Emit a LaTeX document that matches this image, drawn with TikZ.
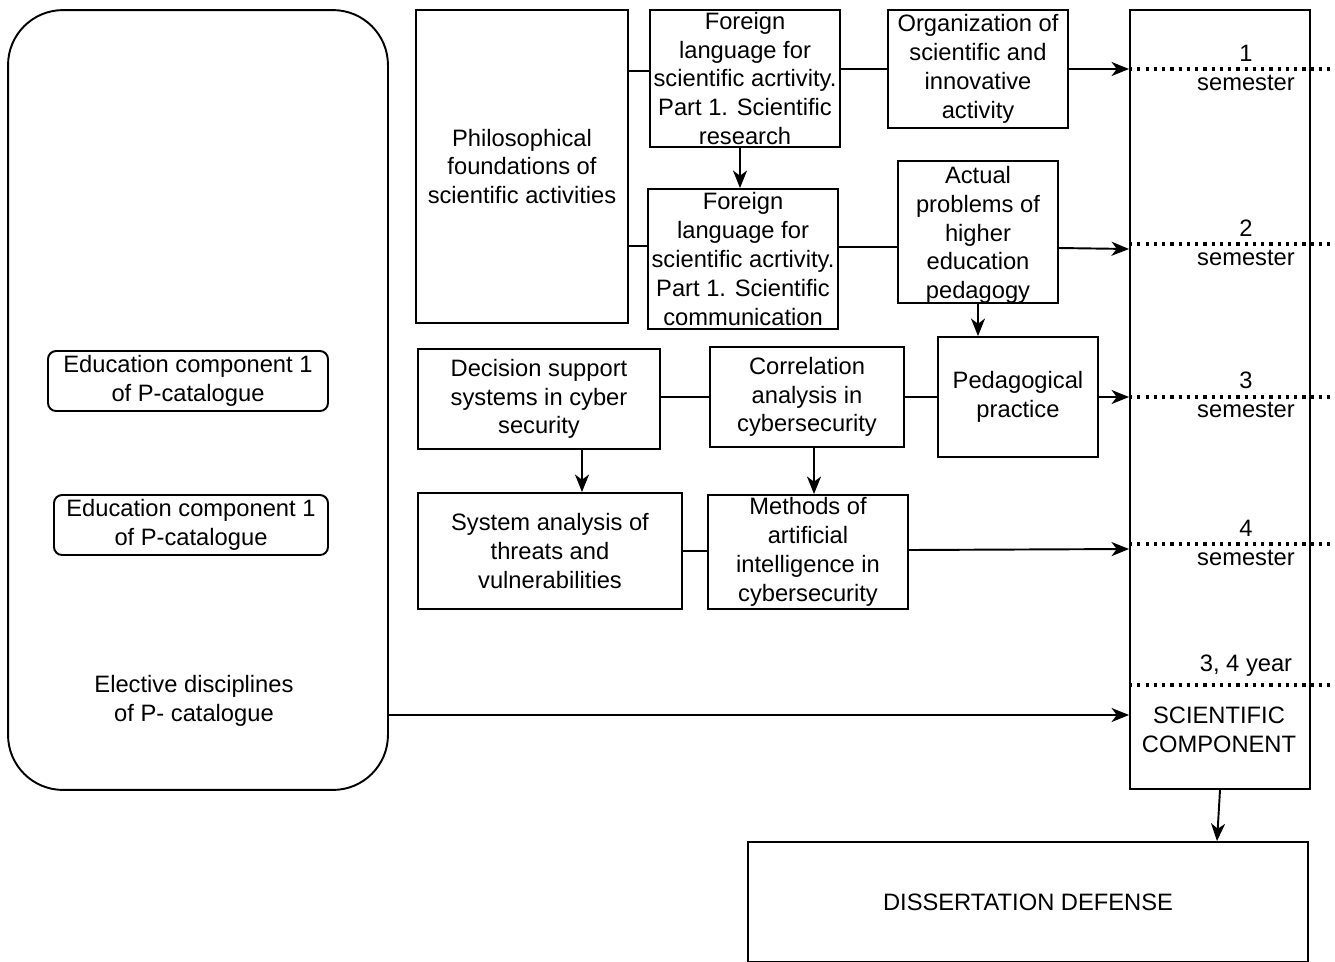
\documentclass[tikz,border=0pt]{standalone}
\usepackage{fontspec}
\setmainfont{Liberation Sans}
\usetikzlibrary{arrows.meta,positioning,calc}

\begin{document}
\begin{tikzpicture}[x=0.02cm, y=-0.02cm,
    box/.style={rectangle, draw=black, line width=1.1pt, align=center,
                font=\fontsize{13.5pt}{16.4pt}\selectfont, inner xsep=1pt, inner ysep=0pt},
    rbox/.style={box, rounded corners=0.16cm},
    txt/.style={align=center, font=\fontsize{13.5pt}{16.4pt}\selectfont, inner sep=0pt},
    arr/.style={-{Stealth[length=10pt, width=8pt, inset=3pt]}, line width=1.1pt},
    link/.style={line width=1.1pt},
    dots/.style={line width=1.8pt, dash pattern=on 1.8pt off 2.9pt}
]
\useasboundingbox (0,0) rectangle (1335,961);

% left column
\node[box, rounded corners=1.1cm, minimum width=7.6cm, minimum height=15.6cm] (elect) at (198,400) {};
\node[rbox, minimum width=5.6cm, minimum height=1.2cm]  (edu1) at (188,381) {Education component 1\\of P-catalogue};
\node[rbox, minimum width=5.48cm, minimum height=1.2cm] (edu2) at (191,525) {Education component 1\\of P-catalogue};
\node[txt] (electtxt) at (194,701) {Elective disciplines\\of P- catalogue};

% disciplines
\node[box, minimum width=4.24cm, minimum height=6.26cm] (phil) at (522,166.5) {Philosophical\\foundations of\\scientific activities};
\node[box, minimum width=3.8cm, minimum height=2.74cm]  (fl1)  at (745,78.5)  {Foreign\\language for\\scientific acrtivity.\\Part 1. Scientific\\research};
\node[box, minimum width=3.8cm, minimum height=2.8cm]   (fl2)  at (743,259)   {Foreign\\language for\\scientific acrtivity.\\Part 1. Scientific\\communication};
\node[box, minimum width=3.6cm, minimum height=2.36cm]  (org)  at (978,69)    {Organization of\\scientific and\\innovative\\activity};
\node[box, minimum width=3.2cm, minimum height=2.84cm]  (act)  at (978,232)   {};
\node[txt] (acttxt) at (978,235) {Actual\\problems of\\higher\\education\\pedagogy};
\node[box, minimum width=3.2cm, minimum height=2.4cm]   (ped)  at (1018,397)  {Pedagogical\\practice};
\node[box, minimum width=4.84cm, minimum height=2.0cm]  (dss)  at (539,399)   {Decision support\\systems in cyber\\security};
\node[box, minimum width=3.88cm, minimum height=2.0cm]  (corr) at (807,397)   {Correlation\\analysis in\\cybersecurity};
\node[box, minimum width=5.28cm, minimum height=2.32cm] (sysa) at (550,551)   {System analysis of\\threats and\\vulnerabilities};
\node[box, minimum width=4.0cm, minimum height=2.28cm]  (aim)  at (808,552)   {Methods of\\artificial\\intelligence in\\cybersecurity};

% scientific component and defense
\node[box, minimum width=3.6cm, minimum height=15.58cm] (sc) at (1220,399.5) {};
\node[box, minimum width=11.2cm, minimum height=2.4cm]  (dd) at (1028,902)   {DISSERTATION DEFENSE};

\foreach \y in {69,244,397,544,685}
  \draw[dots] (sc.west |- 0,\y) -- (1335,\y);

\node[txt] (sem1) at (1246,68)  {1\\semester};
\node[txt] (sem2) at (1246,243) {2\\semester};
\node[txt] (sem3) at (1246,395) {3\\semester};
\node[txt] (sem4) at (1246,543) {4\\semester};
\node[txt] (year) at (1246,666) {3, 4 year};
\node[txt] (sctxt) at (1219,729.5) {SCIENTIFIC\\COMPONENT};

% connectors
\draw[link] (phil.east |- 0,71)  -- (fl1.west |- 0,71);
\draw[link] (phil.east |- 0,246) -- (fl2.west |- 0,246);
\draw[link] (fl1.east |- 0,69)   -- (org.west |- 0,69);
\draw[arr]  (org.east |- 0,69)   -- (sc.west |- 0,69);
\draw[arr]  (fl1.south -| 740,0) -- (fl2.north -| 740,0);
\draw[link] (fl2.east |- 0,247)  -- (act.west |- 0,247);
\draw[arr]  (act.east |- 0,248)  -- (sc.west |- 0,249);
\draw[arr]  (act.south)          -- (ped.north -| act.south);
\draw[link] (dss.east |- 0,397)  -- (corr.west |- 0,397);
\draw[link] (corr.east |- 0,397) -- (ped.west |- 0,397);
\draw[arr]  (ped.east |- 0,397)  -- (sc.west |- 0,397);
\draw[arr]  (dss.south -| 582,0) -- (sysa.north -| 582,0);
\draw[arr]  (corr.south -| 814,0) -- (aim.north -| 814,0);
\draw[link] (sysa.east |- 0,551) -- (aim.west |- 0,551);
\draw[arr]  (aim.east |- 0,550)  -- (sc.west |- 0,549);
\draw[arr]  (elect.east |- 0,715) -- (sc.west |- 0,715);
\draw[arr]  (sc.south) -- (dd.north -| 1217,0);
\end{tikzpicture}
\end{document}
